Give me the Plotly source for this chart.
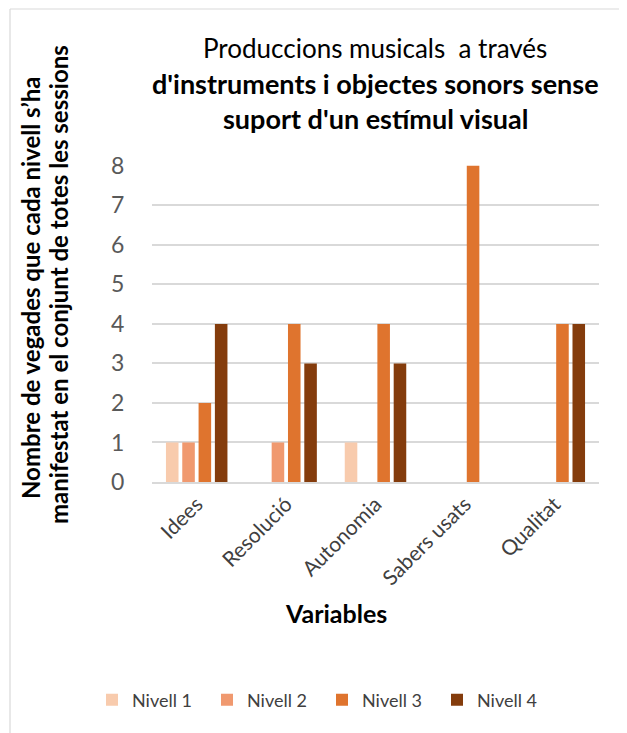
import plotly.graph_objects as go

categories = ["Idees", "Resolució", "Autonomia", "Sabers usats", "Qualitat"]
series_names = ["Nivell 1", "Nivell 2", "Nivell 3", "Nivell 4"]
nivell1 = [1, 0, 1, 0, 0]
nivell2 = [1, 1, 0, 0, 0]
nivell3 = [2, 4, 4, 8, 4]
nivell4 = [4, 3, 3, 0, 4]
colors = ["#F8CBAD", "#F0996F", "#DF742E", "#843C0C"]
y_ticks = [0, 1, 2, 3, 4, 5, 6, 7, 8]

OFF = 8  # browser default body margin
PW, PH = 627, 733
W, H = PW - OFF, PH - OFF
# plot area in page coordinates: x 152..599, y 165..482
L, T = 152 - OFF, 165 - OFF
R, B = PW - 599, PH - 482
pw, ph = W - L - R, H - T - B

def px(x):
    return (x - OFF - L) / pw

def py(y):
    return (H - B - (y - OFF)) / ph

FONT = "Lato"
fig = go.Figure()
for name, vals, c in zip(series_names, [nivell1, nivell2, nivell3, nivell4], colors):
    fig.add_trace(go.Bar(name=name, x=categories, y=vals, marker=dict(color=c, line=dict(width=0))))

fig.update_layout(
    width=W, height=H,
    margin=dict(l=L, r=R, t=T, b=B, autoexpand=False),
    paper_bgcolor="white", plot_bgcolor="white",
    barmode="group", bargap=0.27, bargroupgap=0.23,
    font=dict(family=FONT, color="#595959"),
    showlegend=True,
    legend=dict(orientation="h", x=px(92), xanchor="left", y=py(700), yanchor="middle",
                font=dict(size=18, color="#404040"), itemwidth=30, traceorder="normal",
                entrywidth=70, entrywidthmode="pixels"),
    xaxis=dict(tickangle=-45, tickfont=dict(size=21, color="#404040"), showgrid=False,
               showline=True, linecolor="#D9D9D9", linewidth=1.5, ticks=""),
    yaxis=dict(range=[0, 8.02], tickvals=y_ticks, tickfont=dict(size=23, color="#595959"),
               showgrid=True, gridcolor="#D9D9D9", gridwidth=1.5, zeroline=False,
               ticks="outside", ticklen=22, tickcolor="rgba(0,0,0,0)", showline=False),
)

ann = []
ann.append(dict(text="Produccions musicals  a través", x=px(375), y=py(48), size=26))
ann.append(dict(text="<b>d'instruments i objectes sonors sense</b>", x=px(375), y=py(83), size=27))
ann.append(dict(text="<b>suport d'un estímul visual</b>", x=px(375), y=py(118), size=27))
for a in ann:
    fig.add_annotation(xref="paper", yref="paper", xanchor="center", yanchor="middle",
                       showarrow=False, font=dict(size=a["size"], color="#000000", family=FONT),
                       text=a["text"], x=a["x"], y=a["y"])

fig.add_annotation(xref="paper", yref="paper", x=px(30), y=py(288), textangle=-90, showarrow=False,
                   xanchor="center", yanchor="middle",
                   text="<b>Nombre de vegades que cada nivell s’ha</b>", font=dict(size=24, color="#000000", family=FONT))
fig.add_annotation(xref="paper", yref="paper", x=px(58), y=py(285), textangle=-90, showarrow=False,
                   xanchor="center", yanchor="middle",
                   text="<b>manifestat en el conjunt de totes les sessions</b>", font=dict(size=24, color="#000000", family=FONT))
fig.add_annotation(xref="paper", yref="paper", x=px(336), y=py(613), showarrow=False,
                   xanchor="center", yanchor="middle",
                   text="<b>Variables</b>", font=dict(size=25, color="#000000", family=FONT))

# chart frame
fig.add_shape(type="line", xref="paper", yref="paper", x0=px(10), x1=px(10), y0=py(9), y1=py(740),
              line=dict(color="#D9D9D9", width=1.2))
fig.add_shape(type="line", xref="paper", yref="paper", x0=px(10), x1=px(640), y0=py(9), y1=py(9),
              line=dict(color="#D9D9D9", width=1.2))

fig.write_html("out.html")
